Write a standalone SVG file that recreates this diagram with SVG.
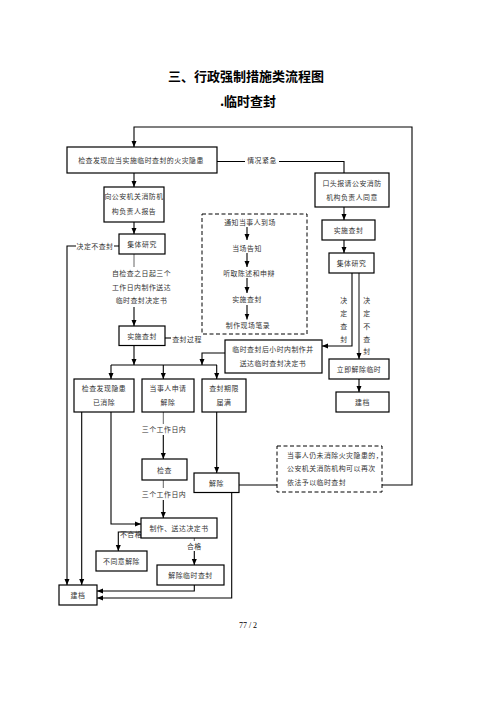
<svg xmlns="http://www.w3.org/2000/svg" width="496" height="702" viewBox="0 0 496 702">
<style>
text{font-family:"Noto Sans CJK SC","Liberation Sans",sans-serif;font-size:6.9px;letter-spacing:0.5px;fill:#333;text-anchor:middle;dominant-baseline:central}
.t{font-size:13px;letter-spacing:0;font-weight:bold;fill:#000}
.b{fill:#fff;stroke:#000;stroke-width:1.2}
.d{fill:none;stroke:#000;stroke-width:1;stroke-dasharray:4 2.5}
.c{fill:none;stroke:#000;stroke-width:1.1}
.g{fill:none;stroke:#666;stroke-width:1}
.a{marker-end:url(#ar)}
.l{text-anchor:start}
.pn{font-family:"Liberation Serif",serif;font-size:8px;letter-spacing:0;fill:#000}
</style>
<defs>
<marker id="ar" markerUnits="userSpaceOnUse" markerWidth="6" markerHeight="6" viewBox="0 0 6 6" refX="6" refY="3" orient="auto">
<path d="M0,0.5 L6,3 L0,5.5 Z" fill="#000"/>
</marker>
</defs>
<rect width="496" height="702" fill="#fff"/>
<text class="t" x="246" y="75">三、行政强制措施类流程图</text>
<text class="t" x="248" y="100">.临时查封</text>

<g id="connectors">
<path class="c a" d="M382,485 H412 V127 H134 V147"/>
<path class="c" d="M217,161.5 H245 M279,161.5 H344 V173"/>
<text x="262" y="160">情况紧急</text>
<path class="c a" d="M134,173 V187"/>
<path class="c a" d="M134,222 V234"/>
<path class="g" d="M134,254 V267"/>
<text x="141.5" y="273.3">自检查之日起三个</text>
<text x="141.5" y="286.7">工作日内制作送达</text>
<text x="141.5" y="300">临时查封决定书</text>
<path class="c a" d="M134,307 V326"/>
<path class="c a" d="M119,246 H114 M76,246 H67 V585"/>
<text x="95" y="246">决定不查封</text>
<path class="c" d="M165,338 H171"/>
<text x="187" y="338.5">查封过程</text>
<path class="c a" d="M247,227 V240"/>
<path class="c a" d="M247,253 V267"/>
<path class="c a" d="M247,278 V293"/>
<path class="c a" d="M247,305 V319.5"/>
<path class="c a" d="M344,207 V220"/>
<path class="c a" d="M344,240 V253"/>
<path class="c a" d="M352,273 V346 H322"/>
<path class="g a" d="M359,273 V359" style="stroke-width:1.6"/>
<text x="344" y="300">决</text><text x="344" y="313">定</text><text x="344" y="326">查</text><text x="344" y="338.5">封</text>
<text x="367" y="300">决</text><text x="367" y="313">定</text><text x="367" y="326">不</text><text x="367" y="338.5">查</text><text x="367" y="351">封</text>
<path class="c a" d="M359,379 V392"/>
<path class="c a" d="M134,346 V365"/>
<path class="c" d="M111,365 H217"/>
<path class="c a" d="M111,365 V379"/>
<path class="c a" d="M163.3,365 V379"/>
<path class="c a" d="M216.7,365 V379"/>
<path class="c a" d="M225,353 H202 V365"/>
<path class="c a" d="M81.7,412 V585"/>
<path class="c a" d="M111,412 V524 H141"/>
<path class="g" d="M163.3,412 V424"/>
<text x="164" y="429">三个工作日内</text>
<path class="c a" d="M163.3,435 V459"/>
<path class="g" d="M163.3,480 V488"/>
<text x="164" y="494">三个工作日内</text>
<path class="c a" d="M163.3,500 V518"/>
<path class="c a" d="M216.7,412 V473"/>
<path class="c" d="M239,485 H277"/>
<path class="c a" d="M231.7,492 V598 H97"/>
<path class="c a" d="M141,532 H118.3 V551"/>
<text x="131" y="534">不合格</text>
<path class="g" d="M194.3,538 V541"/>
<text x="194.3" y="545.5">合格</text>
<path class="c a" d="M194.3,551 V565"/>
<path class="c a" d="M194.3,585 V591 H97"/>
</g>

<g id="n1"><rect class="b" x="67" y="147" width="150" height="26"/><text x="141" y="160">检查发现应当实施临时查封的火灾隐患</text></g>
<g id="n2"><rect class="b" x="104" y="187" width="60" height="35"/><text x="134" y="196">向公安机关消防机</text><text x="134" y="211">构负责人报告</text></g>
<g id="n3"><rect class="b" x="119" y="234" width="46" height="20"/><text x="142" y="244">集体研究</text></g>
<g id="n4"><rect class="b" x="119" y="326" width="46" height="19.5"/><text x="142" y="336">实施查封</text></g>
<g id="n5"><rect class="d" x="202" y="214" width="105" height="120"/>
<text x="250" y="221.7">通知当事人到场</text>
<text x="247" y="247.7">当场告知</text>
<text x="249" y="272.7">听取陈述和申辩</text>
<text x="247" y="299">实施查封</text>
<text x="248" y="325">制作现场笔录</text></g>
<g id="n6"><rect class="b" x="315" y="173" width="74" height="34"/><text x="352" y="183.3">口头报请公安消防</text><text x="352" y="196.7">机构负责人同意</text></g>
<g id="n7"><rect class="b" x="322" y="220" width="53" height="20"/><text x="348.5" y="230">实施查封</text></g>
<g id="n8"><rect class="b" x="329" y="253" width="45" height="20"/><text x="351.5" y="263">集体研究</text></g>
<g id="n9"><rect class="b" x="225" y="340" width="97" height="33"/><text x="273" y="348.5">临时查封后小时内制作并</text><text x="273" y="362.5">送达临时查封决定书</text></g>
<g id="n10"><rect class="b" x="329" y="359" width="60" height="20"/><text x="359" y="369">立即解除临时</text></g>
<g id="n11"><rect class="b" x="336" y="392" width="53" height="20"/><text x="362.5" y="402">建档</text></g>
<g id="n12"><rect class="b" x="74" y="379" width="60" height="33"/><text x="104" y="388.3">检查发现隐患</text><text x="104" y="401.7">已消除</text></g>
<g id="n13"><rect class="b" x="142" y="379" width="52" height="33"/><text x="168" y="388.3">当事人申请</text><text x="168" y="401.7">解除</text></g>
<g id="n14"><rect class="b" x="202" y="379" width="44" height="33"/><text x="224" y="388.3">查封期限</text><text x="224" y="401.7">届满</text></g>
<g id="n15"><rect class="b" x="142" y="459" width="45" height="21"/><text x="164.5" y="469.5">检查</text></g>
<g id="n16"><rect class="b" x="194" y="473" width="45" height="19.5"/><text x="216.5" y="482.7">解除</text></g>
<g id="n17"><rect class="d" x="277" y="446" width="105" height="46"/>
<text class="l" x="287" y="455">当事人仍未消除火灾隐患的，</text>
<text class="l" x="287" y="468.3">公安机关消防机构可以再次</text>
<text class="l" x="287" y="481.7">依法予以临时查封</text></g>
<g id="n18"><rect class="b" x="141" y="518" width="76" height="20"/><text x="179" y="528">制作、送达决定书</text></g>
<g id="n19"><rect class="b" x="96" y="551" width="51" height="20"/><text x="121.5" y="561">不同意解除</text></g>
<g id="n20"><rect class="b" x="157" y="565" width="67" height="20"/><text x="190.5" y="575">解除临时查封</text></g>
<g id="n21"><rect class="b" x="59" y="585" width="38" height="20"/><text x="78" y="595">建档</text></g>

<text class="pn" x="248" y="625">77 / 2</text>
</svg>
